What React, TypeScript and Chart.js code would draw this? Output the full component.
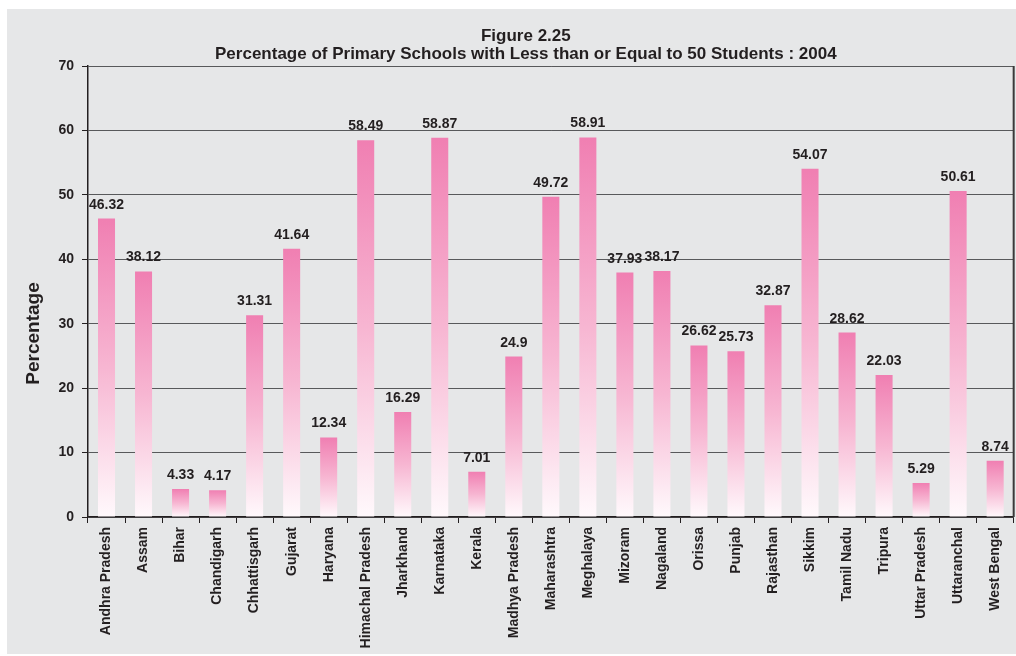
import React, { useEffect, useRef } from "react";
import { Chart, registerables } from "chart.js";

Chart.register(...registerables);

const states: string[] = [
  "Andhra Pradesh", "Assam", "Bihar", "Chandigarh", "Chhattisgarh", "Gujarat", "Haryana",
  "Himachal Pradesh", "Jharkhand", "Karnataka", "Kerala", "Madhya Pradesh", "Maharashtra",
  "Meghalaya", "Mizoram", "Nagaland", "Orissa", "Punjab", "Rajasthan", "Sikkim",
  "Tamil Nadu", "Tripura", "Uttar Pradesh", "Uttaranchal", "West Bengal",
];
const percentages: number[] = [
  46.32, 38.12, 4.33, 4.17, 31.31, 41.64, 12.34, 58.49, 16.29, 58.87, 7.01, 24.9, 49.72,
  58.91, 37.93, 38.17, 26.62, 25.73, 32.87, 54.07, 28.62, 22.03, 5.29, 50.61, 8.74,
];
const valueLabels: string[] = percentages.map((v) => String(v));
const titleLines: string[] = [
  "Figure 2.25",
  "Percentage of Primary Schools with Less than or Equal to 50 Students : 2004",
];
const yAxisTitle = "Percentage";

const FONT = "'Liberation Sans', Arial, Helvetica, sans-serif";
const TEXT = "#231f20";
const BG = "#e6e7e8";

export default function App() {
  const ref = useRef<HTMLCanvasElement | null>(null);
  useEffect(() => {
    if (!ref.current) return;
    const bgPlugin = {
      id: "bg",
      beforeDraw(chart: any) {
        const { ctx, width, height } = chart;
        ctx.save();
        ctx.fillStyle = BG;
        ctx.fillRect(0, 0, width, height);
        ctx.restore();
      },
    };
    const decoPlugin = {
      id: "deco",
      afterDraw(chart: any) {
        const { ctx, chartArea } = chart;
        ctx.save();
        // right border of plot
        ctx.strokeStyle = "#3a3a3a";
        ctx.lineWidth = 2;
        ctx.beginPath();
        ctx.moveTo(chartArea.right, chartArea.top);
        ctx.lineTo(chartArea.right, chartArea.bottom);
        ctx.stroke();
        // title
        ctx.fillStyle = TEXT;
        ctx.font = `bold 17px ${FONT}`;
        ctx.textAlign = "center";
        ctx.textBaseline = "alphabetic";
        const cx = (chartArea.left + chartArea.right) / 2 - 25;
        ctx.fillText(titleLines[0], cx, chartArea.top - 25);
        ctx.fillText(titleLines[1], cx, chartArea.top - 7);
        // y axis title
        ctx.font = `bold 19px ${FONT}`;
        ctx.translate(chartArea.left - 54, (chartArea.top + chartArea.bottom) / 2 + 42);
        ctx.rotate(-Math.PI / 2);
        ctx.textBaseline = "middle";
        ctx.fillText(yAxisTitle, 0, 0);
        ctx.restore();
      },
      afterDatasetsDraw(chart: any) {
        const { ctx } = chart;
        const meta = chart.getDatasetMeta(0);
        ctx.save();
        ctx.fillStyle = TEXT;
        ctx.font = `bold 14px ${FONT}`;
        ctx.textAlign = "center";
        ctx.textBaseline = "alphabetic";
        meta.data.forEach((el: any, i: number) => {
          ctx.fillText(valueLabels[i], el.x, el.y - 10);
        });
        ctx.restore();
      },
    };
    const chart = new Chart(ref.current, {
      type: "bar",
      data: {
        labels: states,
        datasets: [
          {
            data: percentages,
            backgroundColor: (c: any) => {
              const ch = c.chart;
              if (!ch.chartArea || c.type !== "data") return "#f283b5";
              const y = ch.scales.y;
              const top = y.getPixelForValue(c.raw);
              const bottom = y.getPixelForValue(0);
              const g = ch.ctx.createLinearGradient(0, top, 0, bottom);
              g.addColorStop(0, "#f07fb2");
              g.addColorStop(0.5, "#f7b6d2");
              g.addColorStop(1, "#fff9fc");
              return g;
            },
            borderWidth: 0,
            barPercentage: 0.46,
            categoryPercentage: 1,
          },
        ],
      },
      options: {
        animation: false,
        responsive: false,
        maintainAspectRatio: false,
        layout: { padding: { top: 57, right: 2, left: 0, bottom: 0 } },
        plugins: {
          legend: { display: false },
          title: { display: false },
          tooltip: { enabled: false },
        },
        scales: {
          x: {
            offset: true,
            afterFit(scale: any) {
              scale.height = 137;
            },
            grid: {
              display: true,
              offset: true,
              drawOnChartArea: false,
              drawTicks: true,
              tickLength: 6,
              color: TEXT,
            },
            border: { display: true, color: TEXT, width: 1.5 },
            ticks: {
              minRotation: 90,
              maxRotation: 90,
              autoSkip: false,
              padding: 4,
              color: TEXT,
              font: { family: FONT, size: 14, weight: "bold" },
            },
          },
          y: {
            min: 0,
            max: 70,
            afterFit(scale: any) {
              scale.width = 81;
            },
            grid: {
              color: "#58595b",
              lineWidth: 1,
              drawTicks: true,
              tickLength: 6,
              tickColor: TEXT,
            },
            border: { display: true, color: TEXT, width: 1.5 },
            ticks: {
              stepSize: 10,
              padding: 8,
              color: TEXT,
              font: { family: FONT, size: 14, weight: "bold" },
            },
          },
        },
      },
      plugins: [bgPlugin, decoPlugin],
    } as any);
    return () => chart.destroy();
  }, []);
  return (
    <div style={{ position: "absolute", left: 7, top: 9, width: 1009, height: 645 }}>
      <canvas ref={ref} width={1009} height={645} style={{ display: "block" }} />
    </div>
  );
}
